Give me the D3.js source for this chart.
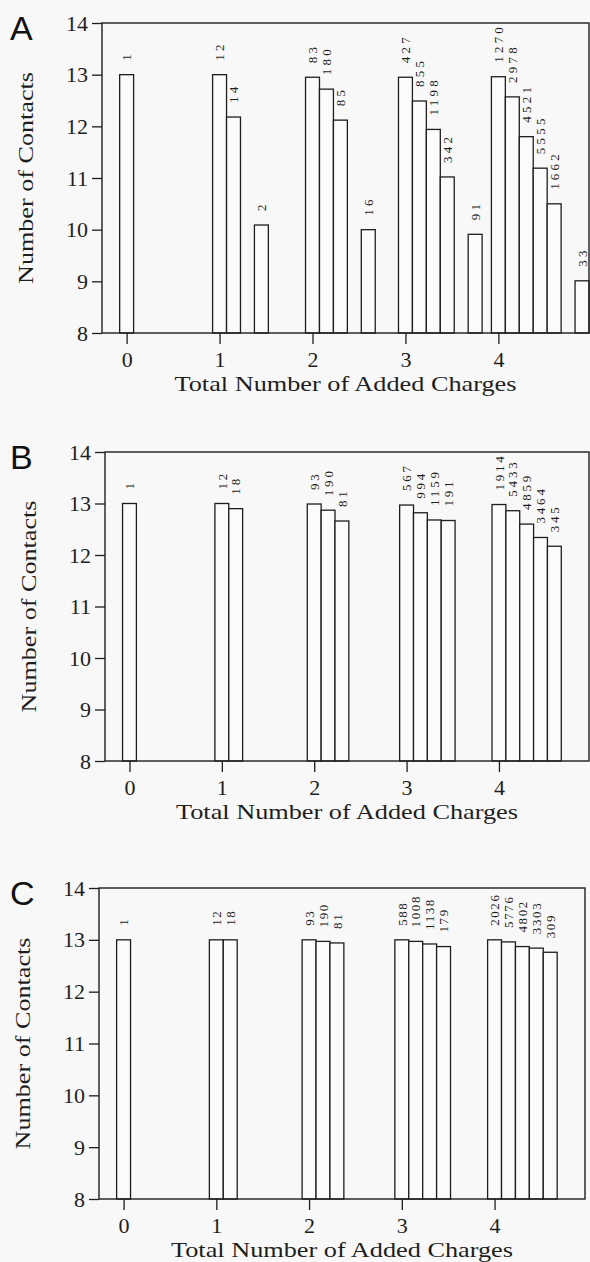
<!DOCTYPE html>
<html>
<head>
<meta charset="utf-8">
<script src="https://cdn.jsdelivr.net/npm/d3@7"></script>
<style>
  html, body { margin: 0; padding: 0; background: #f8f8f8; }
  svg { display: block; }
</style>
</head>
<body>
<div id="chart"></div>
<script>
// charges on the x axis
const charges = [0, 1, 2, 3, 4]
const yTicks = [8, 9, 10, 11, 12, 13, 14]

// number of contacts per bar, one list per charge; null = empty slot
const contactsA = [
  [13.0],
  [13.0, 12.18, null, 10.09],
  [12.95, 12.72, 12.12, null, 10.0],
  [12.95, 12.49, 11.94, 11.02, null, 9.91],
  [12.96, 12.57, 11.80, 11.19, 10.50, null, 9.01]
]
const countsA = [
  [1],
  [12, 14, null, 2],
  [83, 180, 85, null, 16],
  [427, 855, 1198, 342, null, 91],
  [1270, 2978, 4521, 5555, 1662, null, 33]
]

const contactsB = [
  [13.0],
  [13.0, 12.90],
  [12.99, 12.87, 12.66],
  [12.97, 12.82, 12.68, 12.67],
  [12.98, 12.86, 12.60, 12.34, 12.17]
]
const countsB = [
  [1],
  [12, 18],
  [93, 190, 81],
  [567, 994, 1159, 191],
  [1914, 5433, 4859, 3464, 345]
]

const contactsC = [
  [13.0],
  [13.0, 13.0],
  [13.0, 12.97, 12.94],
  [13.0, 12.97, 12.92, 12.87],
  [13.0, 12.96, 12.87, 12.84, 12.76]
]
const countsC = [
  [1],
  [12, 18],
  [93, 190, 81],
  [588, 1008, 1138, 179],
  [2026, 5776, 4802, 3303, 309]
]

const WIDTH = 590
const HEIGHT = 1262
const INK = '#1e1e1e'
const SERIF = '"Liberation Serif", "Times New Roman", serif'
const BAR_STEP = 0.15

const panels = [
  { letter: 'A', contacts: contactsA, counts: countsA, left: 102, right: 589, top: 23, bottom: 333, spacing: 3.2 },
  { letter: 'B', contacts: contactsB, counts: countsB, left: 105, right: 589, top: 452, bottom: 761, spacing: 2.8 },
  { letter: 'C', contacts: contactsC, counts: countsC, left: 99, right: 585, top: 888, bottom: 1199, spacing: 1.6 }
]

const svg = d3.select('#chart')
  .append('svg')
  .attr('width', WIDTH)
  .attr('height', HEIGHT)

svg.append('rect')
  .attr('width', WIDTH)
  .attr('height', HEIGHT)
  .attr('fill', '#f8f8f8')

function serifText (sel, size) {
  sel.style('font-family', SERIF)
    .style('font-size', size + 'px')
    .attr('fill', INK)
}

function drawPanel (p) {
  const g = svg.append('g')

  const x = d3.scaleLinear()
    .domain([-0.265, 4.975])
    .range([p.left, p.right])
  const y = d3.scaleLinear()
    .domain([8, 14])
    .range([p.bottom, p.top])

  const barW = x(BAR_STEP) - x(0)

  // flatten into bars
  const bars = []
  charges.forEach((c, i) => {
    p.contacts[i].forEach((v, k) => {
      if (v === null) return
      bars.push({ pos: c + k * BAR_STEP, value: v, count: p.counts[i][k] })
    })
  })

  g.selectAll('.bar')
    .data(bars)
    .enter()
    .append('rect')
    .attr('class', 'bar')
    .attr('x', (d) => x(d.pos) - barW / 2)
    .attr('y', (d) => y(d.value))
    .attr('width', barW)
    .attr('height', (d) => y(8) - y(d.value))
    .attr('fill', '#fbfbfb')
    .attr('stroke', INK)
    .attr('stroke-width', 1.3)

  g.selectAll('.count')
    .data(bars)
    .enter()
    .append('text')
    .attr('class', 'count')
    .attr('transform', (d) => `translate(${x(d.pos)},${y(d.value) - 14}) rotate(-90)`)
    .attr('dy', '0.36em')
    .style('letter-spacing', p.spacing + 'px')
    .call(serifText, 13)
    .text((d) => d.count)

  // frame
  g.append('rect')
    .attr('x', p.left)
    .attr('y', p.top)
    .attr('width', p.right - p.left)
    .attr('height', p.bottom - p.top)
    .attr('fill', 'none')
    .attr('stroke', INK)
    .attr('stroke-width', 1.4)

  const yAxis = g.append('g')
    .attr('transform', `translate(${p.left},0)`)
    .call(d3.axisLeft(y).tickValues(yTicks).tickFormat(d3.format('d'))
      .tickSize(10).tickPadding(4).tickSizeOuter(0))
  yAxis.attr('font-family', null).attr('font-size', null)
  yAxis.select('.domain').remove()
  yAxis.selectAll('line').attr('stroke', INK).attr('stroke-width', 1.3)
  yAxis.selectAll('text').call(serifText, 22)

  const xAxis = g.append('g')
    .attr('transform', `translate(0,${p.bottom})`)
    .call(d3.axisBottom(x).tickValues(charges).tickFormat(d3.format('d'))
      .tickSize(11).tickPadding(7).tickSizeOuter(0))
  xAxis.attr('font-family', null).attr('font-size', null)
  xAxis.select('.domain').remove()
  xAxis.selectAll('line').attr('stroke', INK).attr('stroke-width', 1.3)
  xAxis.selectAll('text').call(serifText, 22)

  g.append('text')
    .attr('x', (p.left + p.right) / 2)
    .attr('y', p.bottom + 58)
    .attr('text-anchor', 'middle')
    .attr('textLength', 342)
    .attr('lengthAdjust', 'spacingAndGlyphs')
    .call(serifText, 22)
    .text('Total Number of Added Charges')

  g.append('text')
    .attr('transform', `translate(${p.left - 69},${(p.top + p.bottom) / 2}) rotate(-90)`)
    .attr('text-anchor', 'middle')
    .attr('textLength', 212)
    .attr('lengthAdjust', 'spacingAndGlyphs')
    .call(serifText, 22)
    .text('Number of Contacts')

  g.append('text')
    .attr('x', 10)
    .attr('y', p.top + 17)
    .style('font-family', '"Liberation Sans", Arial, sans-serif')
    .style('font-size', '34px')
    .attr('fill', '#111')
    .text(p.letter)
}

panels.forEach(drawPanel)
</script>
</body>
</html>
